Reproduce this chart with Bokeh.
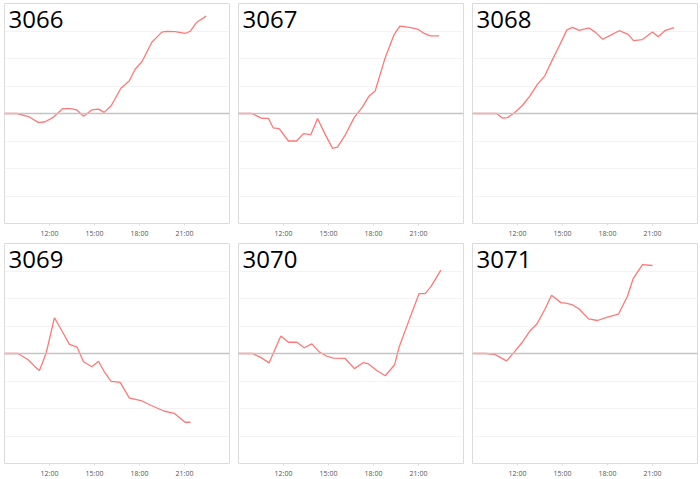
from bokeh.plotting import figure
from bokeh.layouts import gridplot
from bokeh.models import Range1d, FixedTicker, Span, Label
from bokeh.embed import file_html
from bokeh.resources import INLINE

# ---- data (hours of day, value) ----
codes = ["3066", "3067", "3068", "3069", "3070", "3071"]

t3066 = [9.0, 9.82, 10.6, 11.27, 11.71, 12.27, 12.89, 13.38, 13.82, 14.27, 14.82, 15.27, 15.64,
         16.11, 16.76, 17.31, 17.71, 18.16, 18.82, 19.49, 19.82, 20.38, 21.04, 21.38, 21.82, 22.44]
v3066 = [0, 0, -0.11, -0.33, -0.30, -0.13, 0.18, 0.18, 0.13, -0.10, 0.13, 0.16, 0.04,
         0.28, 0.92, 1.18, 1.61, 1.88, 2.59, 2.96, 2.99, 2.98, 2.91, 2.99, 3.32, 3.54]

t3067 = [9.0, 9.89, 10.56, 11.0, 11.31, 11.71, 12.33, 12.87, 13.33, 13.82, 14.27, 14.78, 15.27,
         15.6, 16.11, 16.71, 17.27, 17.71, 18.11, 18.78, 19.38, 19.76, 20.38, 20.93, 21.38, 21.78, 22.38]
v3067 = [0, 0, -0.18, -0.18, -0.52, -0.55, -1.0, -1.0, -0.73, -0.77, -0.18, -0.76, -1.27,
         -1.22, -0.79, -0.15, 0.24, 0.64, 0.82, 2.03, 2.88, 3.18, 3.13, 3.07, 2.91, 2.82, 2.82]

t3068 = [9.0, 10.6, 11.0, 11.33, 11.78, 12.33, 12.82, 13.33, 13.82, 14.33, 14.82, 15.29, 15.67,
         16.11, 16.78, 17.22, 17.67, 18.22, 18.78, 19.38, 19.73, 20.33, 21.0, 21.38, 21.82, 22.44]
v3068 = [0, 0, -0.17, -0.15, 0.02, 0.29, 0.63, 1.06, 1.37, 1.96, 2.5, 3.04, 3.13,
         3.02, 3.11, 2.94, 2.7, 2.85, 3.01, 2.88, 2.65, 2.69, 2.96, 2.79, 3.01, 3.12]

t3069 = [9.0, 9.89, 10.56, 11.0, 11.33, 11.78, 12.33, 12.84, 13.33, 13.84, 14.27, 14.82,
         15.27, 15.67, 16.11, 16.71, 17.33, 18.11, 18.78, 19.67, 20.33, 21.04, 21.4]
v3069 = [0, 0, -0.22, -0.46, -0.62, 0.02, 1.30, 0.81, 0.33, 0.23, -0.30, -0.48,
         -0.28, -0.68, -1.01, -1.05, -1.62, -1.71, -1.89, -2.10, -2.18, -2.50, -2.50]

t3070 = [9.0, 9.93, 10.51, 11.04, 11.82, 12.33, 12.89, 13.38, 13.89, 14.38, 14.89, 15.33, 16.11,
         16.73, 17.33, 17.67, 18.22, 18.78, 19.4, 19.71, 20.33, 21.04, 21.44, 21.82, 22.49]
v3070 = [0, 0, -0.15, -0.34, 0.64, 0.41, 0.41, 0.21, 0.35, 0.06, -0.10, -0.17, -0.18,
         -0.55, -0.33, -0.38, -0.62, -0.81, -0.42, 0.24, 1.15, 2.18, 2.18, 2.42, 3.03]

t3071 = [9.0, 9.89, 10.51, 11.27, 11.78, 12.29, 12.84, 13.29, 13.82, 14.27, 14.89, 15.22,
         15.62, 16.11, 16.73, 17.33, 18.0, 18.73, 19.33, 19.71, 20.33, 21.0]
v3071 = [0, 0, -0.04, -0.27, 0.05, 0.39, 0.83, 1.07, 1.6, 2.12, 1.85, 1.83,
         1.78, 1.62, 1.26, 1.20, 1.32, 1.43, 2.08, 2.72, 3.23, 3.2]

series_t = [t3066, t3067, t3068, t3069, t3070, t3071]
series_v = [v3066, v3067, v3068, v3069, v3070, v3071]

tick_hours = [12, 15, 18, 21]
tick_labels = ["12:00", "15:00", "18:00", "21:00"]
grid_values = [-3, -2, -1, 1, 2, 3]

X0, X1 = 9.0, 24.0
Y0, Y1 = -4.0, 4.0

figs = []
for code, ts, vs in zip(codes, series_t, series_v):
    p = figure(frame_width=225, frame_height=220,
               x_range=Range1d(X0, X1), y_range=Range1d(Y0, Y1),
               output_backend="svg", toolbar_location=None, tools="",
               min_border_left=4, min_border_right=5, min_border_top=3, min_border_bottom=17)
    p.outline_line_color = "#dcdcdc"
    p.outline_line_width = 1
    p.background_fill_color = "white"
    p.border_fill_color = "white"
    p.xgrid.visible = False
    p.yaxis.visible = False
    p.yaxis.ticker = FixedTicker(ticks=grid_values)
    p.ygrid.grid_line_color = "#f3f3f3"
    p.ygrid.grid_line_width = 1

    ax = p.xaxis[0]
    ax.ticker = FixedTicker(ticks=tick_hours)
    ax.major_label_overrides = {h: l for h, l in zip(tick_hours, tick_labels)}
    ax.axis_line_color = None
    ax.major_tick_line_color = "#dddddd"
    ax.minor_tick_line_color = None
    ax.major_tick_in = 0
    ax.major_tick_out = 2
    ax.major_label_standoff = 3
    ax.major_label_text_font = "Open Sans"
    ax.major_label_text_font_size = "7px"
    ax.major_label_text_color = "#555555"

    p.add_layout(Span(location=0, dimension="width", line_color="#c4c4c4", line_width=1.3))
    p.line(ts, vs, line_color="#ff7878", line_width=1.3)

    p.add_layout(Label(x=X0 + 4 / 15.0, y=Y1 - 16 / 27.5, text=code,
                       text_font="Open Sans", text_font_size="24px",
                       text_color="black", text_baseline="alphabetic"))
    figs.append(p)

grid = gridplot(figs, ncols=3, toolbar_location=None)

open("out.html", "w").write(file_html(grid, INLINE))
